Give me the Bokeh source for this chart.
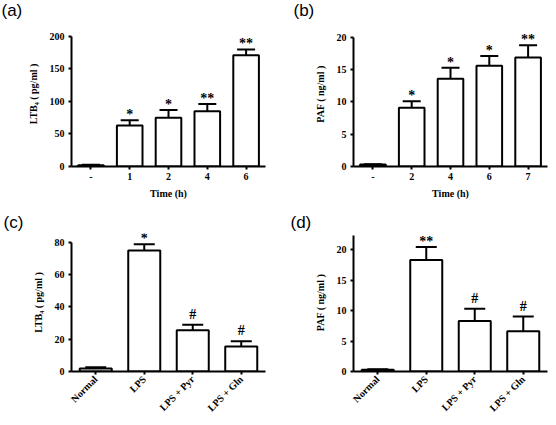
import math
from bokeh.plotting import figure
from bokeh.layouts import gridplot
from bokeh.models import (ColumnDataSource, Whisker, TeeHead, FixedTicker, Title, LabelSet,
                          Range1d, FactorRange)
from bokeh.embed import file_html
from bokeh.resources import INLINE
from bokeh.core.properties import value

# ---- data ----
a_labels = ["-", "1", "2", "4", "6"]
a_means = [2, 63, 75, 85, 171]
a_errs = [0.5, 8, 12, 11, 9]
a_marks = ["", "*", "*", "**", "**"]
a_ticks = [0, 50, 100, 150, 200]

b_labels = ["-", "2", "4", "6", "7"]
b_means = [0.3, 9.1, 13.6, 15.6, 16.9]
b_errs = [0.05, 1.0, 1.7, 1.5, 1.9]
b_marks = ["", "*", "*", "*", "**"]
b_ticks = [0, 5, 10, 15, 20]

c_labels = ["Normal", "LPS", "LPS + Pyr", "LPS + Gln"]
c_means = [1.8, 75, 25.5, 15.5]
c_errs = [0.8, 3.8, 3.4, 3.3]
c_marks = ["", "*", "#", "#"]
c_ticks = [0, 20, 40, 60, 80]

d_labels = ["Normal", "LPS", "LPS + Pyr", "LPS + Gln"]
d_means = [0.3, 18.3, 8.3, 6.6]
d_errs = [0.05, 2.1, 2.0, 2.4]
d_marks = ["", "**", "#", "#"]
d_ticks = [0, 5, 10, 15, 20]

SERIF = "Liberation Serif"
SANS = "Liberation Sans"
W, H = 278, 212
TOP = 20  # space above the plotting frame, holds the panel letter


def make_panel(tag, labels, means, errs, marks, ticks, axis_top, ylabel, xlabel,
               rotate, borders, tag_x, cap):
    left, right, axis_top_px, bottom = borders
    # the frame starts at TOP; extend the range so that axis_top sits at axis_top_px
    frame_h = H - TOP - bottom
    data_px = (H - bottom) - axis_top_px
    y_end = axis_top * frame_h / data_px
    p = figure(width=W, height=H,
               x_range=FactorRange(factors=labels), y_range=Range1d(0, y_end),
               output_backend="svg", toolbar_location=None,
               min_border_left=left, min_border_right=right,
               min_border_top=TOP, min_border_bottom=bottom,
               background_fill_color="white", border_fill_color="white",
               outline_line_color=None)
    uppers = [m + e for m, e in zip(means, errs)]
    src = ColumnDataSource(dict(cat=labels, mean=means, upper=uppers, mark=marks,
                                off=[6 if mk == "#" else 1 for mk in marks]))
    p.vbar(x="cat", top="mean", bottom=0, width=0.66, source=src,
           fill_color="white", line_color="black", line_width=2)
    p.add_layout(Whisker(source=src, base="cat", upper="upper", lower="mean",
                         line_color="black", line_width=2,
                         upper_head=TeeHead(size=cap, line_color="black", line_width=2),
                         lower_head=None))
    p.add_layout(LabelSet(x="cat", y="upper", text="mark", source=src,
                          y_offset="off", text_align="center",
                          text_baseline="alphabetic",
                          text_font=value(SERIF), text_font_style="bold",
                          text_font_size="14px", text_color="black"))

    for ax in (p.xaxis[0], p.yaxis[0]):
        ax.axis_line_width = 2
        ax.axis_line_color = "black"
        ax.major_tick_line_width = 2
        ax.major_tick_line_color = "black"
        ax.major_tick_out = 3
        ax.major_tick_in = 0
        ax.minor_tick_line_color = None
        ax.major_label_text_font = SERIF
        ax.major_label_text_font_style = "bold"
        ax.major_label_text_font_size = "10px"
        ax.major_label_text_color = "black"
        ax.axis_label_text_font = SERIF
        ax.axis_label_text_font_style = "bold"
        ax.axis_label_text_font_size = "10px"
        ax.axis_label_text_color = "black"
    p.yaxis.ticker = FixedTicker(ticks=ticks)
    p.yaxis.bounds = (0, axis_top)
    p.yaxis.axis_label = ylabel
    p.yaxis.axis_label_standoff = 8
    p.yaxis.major_label_standoff = 4
    if xlabel:
        p.xaxis.axis_label = xlabel
        p.xaxis.axis_label_standoff = 5
    p.xaxis.major_label_standoff = 3
    if rotate:
        p.xaxis.major_label_orientation = math.pi / 4
    p.xgrid.visible = False
    p.ygrid.visible = False

    p.add_layout(Title(text=tag, align="left", offset=tag_x - left,
                       vertical_align="top", standoff=0,
                       text_font=SANS, text_font_size="17px",
                       text_font_style="normal", text_color="black"), "above")
    return p


pa = make_panel("(a)", a_labels, a_means, a_errs, a_marks, a_ticks, 200,
                "LTB\u2084 ( pg/ml )", "Time (h)", False, (71, 10, 35, 46), 1, 18)
pb = make_panel("(b)", b_labels, b_means, b_errs, b_marks, b_ticks, 20,
                "PAF ( ng/ml )", "Time (h)", False, (72, 9, 36, 46), 12, 18)
pc = make_panel("(c)", c_labels, c_means, c_errs, c_marks, c_ticks, 80,
                "LTB\u2084 ( pg/ml )", None, True, (68, 13, 29, 51), 0, 21)
pd = make_panel("(d)", d_labels, d_means, d_errs, d_marks, d_ticks, 22.3,
                "PAF ( ng/ml )", None, True, (75, 4, 22, 53), 12, 21)

grid = gridplot([[pa, pb], [pc, pd]], toolbar_location=None)
open("out.html", "w").write(file_html(grid, INLINE))
